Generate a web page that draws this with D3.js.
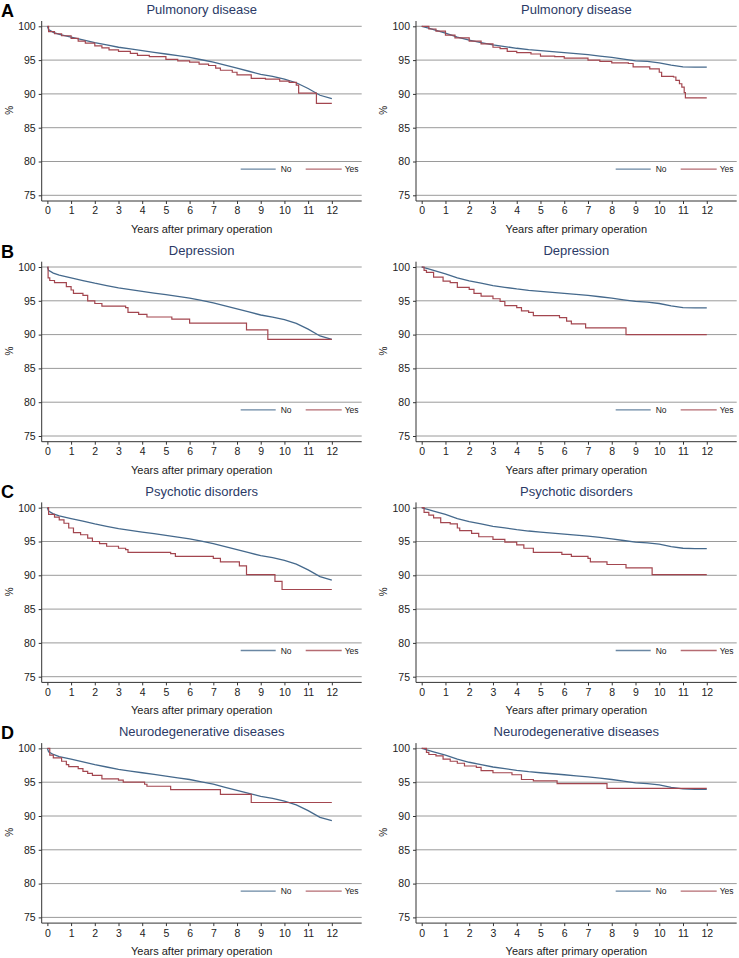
<!DOCTYPE html>
<html>
<head>
<meta charset="utf-8">
<script src="https://cdn.jsdelivr.net/npm/d3@7"></script>
<style>
    body { margin: 0; background: #fff; }
    svg { font-family: "Liberation Sans", Arial, sans-serif; }
</style>
</head>
<body>
<svg class="km-svg" width="739" height="958"></svg>
<script>
// Data (survival in %, years after primary operation)
var TITLES = ["Pulmonory disease", "Depression", "Psychotic disorders", "Neurodegenerative diseases"];
var LETTERS = ["A", "B", "C", "D"];
var X_TICKS = [0, 1, 2, 3, 4, 5, 6, 7, 8, 9, 10, 11, 12];
var Y_TICKS = [75, 80, 85, 90, 95, 100];
var LEGEND = ["No", "Yes"];

// "No" group, shared by all rows (left and right column)
var noYears = [0, 0.05, 0.25, 0.5, 1, 1.5, 2, 2.5, 3, 3.5, 4, 4.5, 5, 5.5, 6, 6.5, 7, 7.5, 8, 8.5, 9, 9.5, 10, 10.5, 11, 11.5, 12];
var noLeft = [100, 99.5, 99.1, 98.8, 98.4, 98.0, 97.6, 97.25, 96.9, 96.65, 96.4, 96.15, 95.9, 95.65, 95.4, 95.05, 94.7, 94.25, 93.8, 93.35, 92.9, 92.6, 92.2, 91.65, 90.8, 89.8, 89.3];
var noRight = [100, 99.95, 99.75, 99.5, 99.0, 98.4, 97.95, 97.6, 97.25, 97.0, 96.75, 96.55, 96.4, 96.25, 96.1, 95.95, 95.8, 95.6, 95.4, 95.15, 94.9, 94.8, 94.6, 94.25, 94.0, 93.95, 93.95];

// "Yes" group, one per panel
var pulmLeftYears = [0, 0.05, 0.3, 0.6, 1.0, 1.3, 1.6, 2.0, 2.3, 2.6, 3.0, 3.5, 3.8, 4.3, 5.0, 5.5, 6.0, 6.4, 6.8, 7.1, 7.3, 7.8, 8.0, 8.6, 9.2, 9.8, 10.2, 10.5, 10.6, 11.35, 12];
var pulmLeftYes = [100, 99.2, 98.9, 98.6, 98.2, 97.8, 97.5, 97.1, 96.8, 96.5, 96.3, 96.0, 95.7, 95.5, 95.1, 94.9, 94.7, 94.4, 94.2, 93.8, 93.5, 93.2, 92.8, 92.3, 92.2, 91.9, 91.7, 91.3, 90.1, 88.6, 88.6];
var pulmRightYears = [0, 0.3, 0.6, 1.0, 1.4, 2.0, 2.5, 3.0, 3.3, 3.6, 4.0, 4.6, 5.0, 5.6, 6.0, 7.0, 7.5, 8.0, 8.7, 8.9, 9.6, 10.0, 10.1, 10.6, 10.7, 10.85, 10.95, 11.05, 11.1, 12];
var pulmRightYes = [100, 99.6, 99.3, 98.7, 98.3, 97.8, 97.4, 96.9, 96.7, 96.3, 96.1, 95.9, 95.6, 95.5, 95.3, 95.0, 94.8, 94.6, 94.5, 94.0, 93.7, 93.2, 92.6, 92.5, 92.0, 91.5, 91.0, 90.2, 89.4, 89.4];

var deprLeftYears = [0, 0.03, 0.1, 0.3, 0.8, 1.0, 1.1, 1.5, 1.7, 2.0, 2.3, 3.3, 3.4, 3.85, 4.2, 5.25, 6.0, 8.4, 9.3, 12];
var deprLeftYes = [100, 98.4, 98.0, 97.7, 97.1, 96.6, 96.1, 95.8, 95.0, 94.6, 94.2, 94.0, 93.3, 93.0, 92.6, 92.3, 91.7, 90.7, 89.3, 89.3];
var deprRightYears = [0, 0.1, 0.2, 0.5, 0.9, 1.2, 1.5, 2.0, 2.2, 2.5, 3.0, 3.3, 3.5, 4.0, 4.2, 4.5, 4.7, 5.8, 6.1, 6.3, 6.9, 8.6, 12];
var deprRightYes = [100, 99.5, 99.2, 98.5, 97.9, 97.7, 97.0, 96.7, 96.1, 95.7, 95.3, 94.9, 94.3, 94.0, 93.5, 93.3, 92.8, 92.5, 92.0, 91.6, 91.0, 90.0, 90.0];

var psyLeftYears = [0, 0.05, 0.3, 0.5, 0.7, 0.9, 1.1, 1.4, 1.7, 1.9, 2.2, 2.5, 3.0, 3.3, 3.4, 5.2, 5.4, 7.0, 7.3, 8.1, 8.4, 9.6, 9.9, 12];
var psyLeftYes = [100, 99.0, 98.6, 98.2, 97.7, 97.0, 96.3, 96.0, 95.5, 95.0, 94.7, 94.3, 94.0, 93.8, 93.4, 93.2, 92.8, 92.5, 92.0, 91.4, 90.1, 89.1, 87.9, 87.9];
var psyRightYears = [0, 0.1, 0.3, 0.5, 0.8, 1.2, 1.5, 1.6, 2.1, 2.4, 3.0, 3.5, 4.0, 4.3, 4.7, 5.9, 6.3, 7.0, 7.1, 7.8, 8.6, 9.7, 12];
var psyRightYes = [100, 99.3, 98.9, 98.5, 97.8, 97.6, 97.0, 96.6, 96.2, 95.7, 95.3, 94.9, 94.5, 94.0, 93.4, 93.1, 92.8, 92.5, 92.0, 91.6, 91.1, 90.1, 90.1];

var neuroLeftYears = [0, 0.1, 0.25, 0.6, 0.8, 0.9, 1.3, 1.5, 1.7, 1.9, 2.3, 3.0, 3.2, 4.1, 4.2, 5.2, 7.3, 8.6, 12];
var neuroLeftYes = [100, 99.0, 98.6, 98.1, 97.6, 97.3, 97.0, 96.6, 96.3, 96.0, 95.5, 95.3, 95.0, 94.7, 94.4, 93.9, 93.2, 92.0, 92.0];
var neuroRightYears = [0, 0.2, 0.3, 0.6, 0.9, 1.2, 1.5, 1.8, 2.3, 2.5, 3.0, 3.8, 4.2, 4.7, 5.7, 7.8, 12];
var neuroRightYes = [100, 99.4, 99.1, 98.9, 98.4, 98.1, 97.8, 97.4, 97.2, 96.7, 96.4, 96.1, 95.4, 95.2, 94.8, 94.1, 94.1];

// Colours
var NO_COLOR = "#45698c",
    YES_COLOR = "#a3464f",
    GRID_COLOR = "#9a9a9a",
    AXIS_COLOR = "#333",
    TITLE_COLOR = "#2b3a66";

// Panels built from the arrays above: [row][col]
var yesSeries = [
    [[pulmLeftYears, pulmLeftYes], [pulmRightYears, pulmRightYes]],
    [[deprLeftYears, deprLeftYes], [deprRightYears, deprRightYes]],
    [[psyLeftYears, psyLeftYes], [psyRightYears, psyRightYes]],
    [[neuroLeftYears, neuroLeftYes], [neuroRightYears, neuroRightYes]]
];
var noSeries = [noLeft, noRight];

var svg = d3.select(".km-svg");

// Panel geometry
var colAxisX = [41.7, 416],      // y axis position
    colRight = [361.7, 736.7],   // right end of plot area
    rowTop = 26.3,               // pixel of the 100 % gridline in row A
    rowStep = 240.7,
    plotH = 169;                 // 100 -> 75

for (var r = 0; r < 4; r++) {
    for (var c = 0; c < 2; c++) {
        drawPanel(r, c);
    }
}

function drawPanel(r, c) {
    var top = rowTop + r * rowStep;
    var axisY = top + 174.7;

    var x = d3.scaleLinear().domain([-0.24, 13.26]).range([colAxisX[c], colRight[c]]);
    var y = d3.scaleLinear().domain([100, 75]).range([top, top + plotH]);

    var g = svg.append("g");

    // Gridlines
    g.selectAll(".grid")
        .data(Y_TICKS)
        .enter()
            .append("line")
            .attr("x1", colAxisX[c])
            .attr("x2", colRight[c])
            .attr("y1", function(d) { return y(d); })
            .attr("y2", function(d) { return y(d); })
            .attr("stroke", GRID_COLOR)
            .attr("stroke-width", 1);

    // Y axis
    var yAxis = g.append("g")
        .attr("transform", "translate(" + colAxisX[c] + ",0)")
        .call(d3.axisLeft(y).tickValues(Y_TICKS).tickSize(3).tickPadding(3));
    yAxis.select(".domain").remove();
    yAxis.append("line")
        .attr("x1", 0).attr("x2", 0)
        .attr("y1", top - 5.3).attr("y2", axisY)
        .attr("stroke", AXIS_COLOR);

    // X axis
    var xAxis = g.append("g")
        .attr("transform", "translate(0," + axisY + ")")
        .call(d3.axisBottom(x).tickValues(X_TICKS).tickSize(3).tickPadding(3));
    xAxis.select(".domain").remove();
    xAxis.append("line")
        .attr("x1", colAxisX[c]).attr("x2", colRight[c])
        .attr("y1", 0).attr("y2", 0)
        .attr("stroke", AXIS_COLOR);

    [yAxis, xAxis].forEach(function(a) {
        a.selectAll(".tick line").attr("stroke", AXIS_COLOR);
        a.selectAll(".tick text")
            .attr("fill", "#222")
            .style("font-size", "10.5px")
            .style("font-family", "'Liberation Sans', Arial, sans-serif");
    });

    // Axis labels
    var cx = (colAxisX[c] + colRight[c]) / 2;
    g.append("text")
        .attr("x", cx)
        .attr("y", axisY + 32)
        .attr("text-anchor", "middle")
        .attr("font-size", "11px")
        .attr("fill", "#222")
        .text("Years after primary operation");

    g.append("text")
        .attr("transform", "translate(" + (colAxisX[c] - 29) + "," + (top + 84) + ") rotate(-90)")
        .attr("text-anchor", "middle")
        .attr("font-size", "10px")
        .attr("fill", "#222")
        .text("%");

    // Title
    g.append("text")
        .attr("x", cx)
        .attr("y", top - 12)
        .attr("text-anchor", "middle")
        .attr("font-size", "13px")
        .attr("fill", TITLE_COLOR)
        .text(TITLES[r]);

    // Panel letter
    if (c === 0) {
        g.append("text")
            .attr("x", 1)
            .attr("y", top - 9.5)
            .attr("font-size", "18px")
            .attr("font-weight", "bold")
            .attr("fill", "#000")
            .text(LETTERS[r]);
    }

    // Curves
    var smooth = d3.line()
        .x(function(d) { return x(d[0]); })
        .y(function(d) { return y(d[1]); });
    var step = d3.line()
        .curve(d3.curveStepAfter)
        .x(function(d) { return x(d[0]); })
        .y(function(d) { return y(d[1]); });

    g.append("path")
        .datum(d3.zip(noYears, noSeries[c]))
        .attr("d", smooth)
        .attr("fill", "none")
        .attr("stroke", NO_COLOR)
        .attr("stroke-width", 1.3);

    var ys = yesSeries[r][c];
    g.append("path")
        .datum(d3.zip(ys[0], ys[1]))
        .attr("d", step)
        .attr("fill", "none")
        .attr("stroke", YES_COLOR)
        .attr("stroke-width", 1.2);

    // Legend
    var R = colRight[c], ly = top + 142.8;
    var legendItems = [
        {name: LEGEND[0], color: NO_COLOR, x1: R - 121, x2: R - 86, tx: R - 81},
        {name: LEGEND[1], color: YES_COLOR, x1: R - 56, x2: R - 20, tx: R - 17}
    ];
    legendItems.forEach(function(d) {
        g.append("line")
            .attr("x1", d.x1).attr("x2", d.x2)
            .attr("y1", ly).attr("y2", ly)
            .attr("stroke", d.color)
            .attr("stroke-opacity", 0.8)
            .attr("stroke-width", 1.3);
        g.append("text")
            .attr("x", d.tx)
            .attr("y", ly + 3)
            .attr("font-size", "8.5px")
            .attr("fill", "#222")
            .text(d.name);
    });
}
</script>
</body>
</html>
